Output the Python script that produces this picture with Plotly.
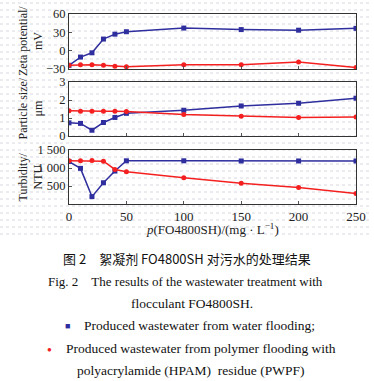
import plotly.graph_objects as go

dose = [0, 10, 20, 30, 40, 50, 100, 150, 200, 250]

zeta_water = [-24, -10.5, -3.5, 19, 27, 31, 37, 34.5, 33.5, 36.5]
zeta_pwpf = [-24, -23, -23, -24, -25.5, -26.5, -23, -23, -18.5, -27.5]

size_water = [0.73, 0.70, 0.32, 0.75, 1.03, 1.26, 1.43, 1.67, 1.82, 2.10]
size_pwpf = [1.40, 1.38, 1.38, 1.37, 1.37, 1.36, 1.20, 1.10, 1.03, 1.05]

turb_water = [1180, 990, 205, 590, 915, 1200, 1200, 1195, 1195, 1195]
turb_pwpf = [1200, 1200, 1205, 1190, 960, 895, 730, 575, 455, 295]

zeta_ticks = [-30, 0, 30, 60]
size_ticks = [0, 1, 2, 3]
turb_ticks = [500, 1000, 1500]
turb_ticktext = ["500", "1 000", "1 500"]
x_ticks = [0, 50, 100, 150, 200, 250]

BLUE = "#2e2e9e"
RED = "#f42020"
W, H = 374, 381
SERIF = "Liberation Serif, Times New Roman, serif"

def py(px):
    return 1 - px / H

def pxx(px):
    return px / W

fig = go.Figure()

panels = [
    ("", "", zeta_water, zeta_pwpf),
    ("2", "2", size_water, size_pwpf),
    ("3", "3", turb_water, turb_pwpf),
]
for xs, ys, bw, rp in panels:
    fig.add_trace(go.Scatter(x=dose, y=bw, xaxis="x" + xs, yaxis="y" + ys,
                             mode="lines+markers", line=dict(color=BLUE, width=1.5),
                             marker=dict(symbol="square", size=5, color=BLUE),
                             showlegend=False))
    fig.add_trace(go.Scatter(x=dose, y=rp, xaxis="x" + xs, yaxis="y" + ys,
                             mode="lines+markers", line=dict(color=RED, width=1.5),
                             marker=dict(symbol="circle", size=5, color=RED),
                             showlegend=False))

xdom = [pxx(69), pxx(356)]
common_x = dict(range=[0, 250], domain=xdom, showgrid=False, zeroline=False,
                showline=True, linecolor="#333", linewidth=1, mirror=True,
                ticks="inside", ticklen=3, tickcolor="#555", tickvals=x_ticks,
                automargin=False,
                tickfont=dict(family=SERIF, size=13, color="#222"))
common_y = dict(showgrid=False, zeroline=False, showline=True, linecolor="#333",
                linewidth=1, mirror=True, ticks="inside", ticklen=3, tickcolor="#555",
                automargin=False,
                tickfont=dict(family=SERIF, size=12.5, color="#222"))

layout = dict(
    width=W, height=H, margin=dict(l=0, r=0, t=0, b=0, autoexpand=False),
    paper_bgcolor="white", plot_bgcolor="rgba(0,0,0,0)",
    xaxis=dict(common_x, anchor="y", showticklabels=False),
    xaxis2=dict(common_x, anchor="y2", showticklabels=False),
    xaxis3=dict(common_x, anchor="y3", showticklabels=True),
    yaxis=dict(common_y, anchor="x", domain=[py(69), py(14)], range=[-30, 60],
               tickvals=zeta_ticks),
    yaxis2=dict(common_y, anchor="x2", domain=[py(136), py(82)], range=[0, 3],
                tickvals=size_ticks),
    yaxis3=dict(common_y, anchor="x3", domain=[py(204), py(150)], range=[0, 1500],
                tickvals=turb_ticks, ticktext=turb_ticktext),
)
fig.update_layout(**layout)

# background dotted texture
shapes = []
for k in range(0, 34):
    yy = 3 + k * 7
    shapes.append(dict(type="line", xref="paper", yref="paper", x0=0, x1=pxx(372),
                       y0=py(yy), y1=py(yy), layer="below",
                       line=dict(color="#d8d8e0", width=1, dash="dot")))
fig.update_layout(shapes=shapes)

ann = []
ytitles = [("Zeta potential/", "mV", 41.5), ("Particle size/", "μm", 109), ("Turbidity/", "NTU", 177)]
for l1, l2, yc in ytitles:
    ann.append(dict(text=l1, x=pxx(22.5), y=py(yc), xref="paper", yref="paper",
                    textangle=-90, showarrow=False, xanchor="center", yanchor="middle",
                    font=dict(family=SERIF, size=12, color="#222")))
    ann.append(dict(text=l2, x=pxx(37.5), y=py(yc), xref="paper", yref="paper",
                    textangle=-90, showarrow=False, xanchor="center", yanchor="middle",
                    font=dict(family=SERIF, size=12, color="#222")))

ann.append(dict(text="<i>p</i>(FO4800SH)/(mg · L<sup>−1</sup>)", x=pxx(212), y=py(229),
                xref="paper", yref="paper", showarrow=False, xanchor="center", yanchor="middle",
                font=dict(family=SERIF, size=13, color="#222")))

captions = [
    ("图 2　絮凝剂 FO4800SH 对污水的处理结果", 187, 258, "Noto Sans CJK SC", 13),
    ("Fig. 2　The results of the wastewater treatment with", 185, 281, SERIF, 13),
    ("flocculant FO4800SH.", 192, 303, SERIF, 13.5),
    ("Produced wastewater from water flooding;", 199, 325, SERIF, 13.5),
    ("Produced wastewater from polymer flooding with", 201, 348, SERIF, 13.5),
    ("polyacrylamide (HPAM)  residue (PWPF)", 190, 370, SERIF, 13.5),
]
for t, xc, yc, fam, fs in captions:
    ann.append(dict(text=t, x=pxx(xc), y=py(yc), xref="paper", yref="paper",
                    showarrow=False, xanchor="center", yanchor="middle",
                    font=dict(family=fam, size=fs, color="#111")))

ann.append(dict(text="■", x=pxx(67), y=py(325), xref="paper", yref="paper",
                showarrow=False, xanchor="center", yanchor="middle",
                font=dict(size=9, color=BLUE)))
ann.append(dict(text="●", x=pxx(49), y=py(348), xref="paper", yref="paper",
                showarrow=False, xanchor="center", yanchor="middle",
                font=dict(size=8, color=RED)))
fig.update_layout(annotations=ann)

fig.write_html("out.html", config={"displayModeBar": False},
               post_script="document.body.style.margin='0';document.body.style.overflow='hidden';")
